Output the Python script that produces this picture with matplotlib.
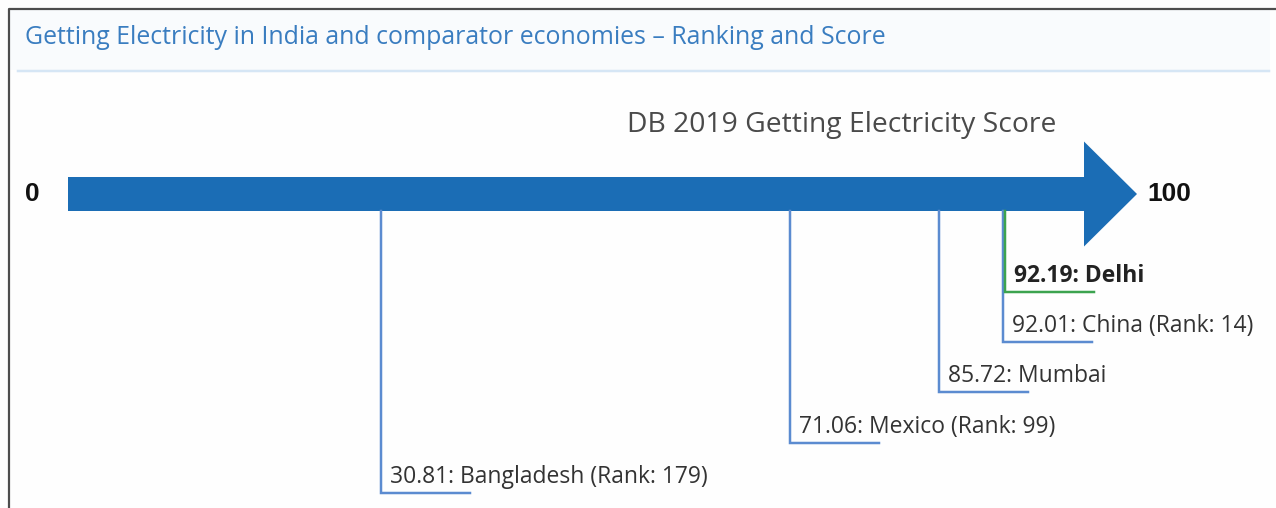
import matplotlib
matplotlib.use("Agg")
import matplotlib.pyplot as plt
from matplotlib.patches import FancyArrow, Rectangle
from matplotlib.lines import Line2D

# ---- data ----
names = ["Delhi", "China", "Mumbai", "Mexico", "Bangladesh"]
scores = [92.19, 92.01, 85.72, 71.06, 30.81]
ranks = [None, 14, None, 99, 179]
highlight = [True, False, False, False, False]
scale_min, scale_max = 0, 100
title = "Getting Electricity in India and comparator economies \u2013 Ranking and Score"
axis_title = "DB 2019 Getting Electricity Score"

# ---- layout (pixels) ----
W, H = 1276, 508
x0_px, x100_px = 68, 1084
ppu = (x100_px - x0_px) / (scale_max - scale_min)
bar_top, bar_bot = 177, 211
head_top, head_bot = 142, 247
head_len_px = 53
label_y = [276, 326, 376, 427, 477]
under_off = 16
under_len_px = 89
text_off_px = 9

BAR = "#1b6db5"
LEAD = "#5b8bd0"
GREEN = "#3ca34f"
TXT = "#333333"

fig = plt.figure(figsize=(W / 100, H / 100), dpi=100)
fig.patch.set_facecolor("#fefefe")
ax = fig.add_axes([0, 0, 1, 1])
ax.set_xlim(scale_min - x0_px / ppu, scale_min + (W - x0_px) / ppu)
ax.set_ylim(H, 0)
ax.axis("off")

# header band and frame
fig.add_artist(Rectangle((10 / W, 1 - 70 / H), 1260 / W, 60 / H, transform=fig.transFigure,
                         facecolor="#f9fbfd", edgecolor="none", zorder=0))
fig.add_artist(Line2D([18 / W, 1269 / W], [1 - 71 / H, 1 - 71 / H], transform=fig.transFigure,
                      color="#d6e6f5", lw=2.5 * 0.72))
fig.add_artist(Line2D([8.5 / W, 8.5 / W, 1], [0, 1 - 8.5 / H, 1 - 8.5 / H], transform=fig.transFigure,
                      color="#4d4d4d", lw=2.2 * 0.72))
fig.text(25 / W, 1 - 37 / H, title, fontsize=17.9, family="Open Sans", color="#3a7dc0",
         ha="left", va="center")

# arrow
mid = (bar_top + bar_bot) / 2
head_len = head_len_px / ppu
arrow = FancyArrow(scale_min, mid, scale_max - scale_min + head_len, 0,
                   width=bar_bot - bar_top, head_width=head_bot - head_top,
                   head_length=head_len, length_includes_head=True,
                   color=BAR, lw=0, zorder=2)
ax.add_patch(arrow)

ax.text(scale_min - 36 / ppu, mid, str(scale_min), fontsize=19, fontweight="bold",
        family="Liberation Sans", color="#111111", ha="center", va="center")
ax.text(scale_max + head_len + 10 / ppu, mid, str(scale_max), fontsize=19, fontweight="bold",
        family="Liberation Sans", color="#111111", ha="left", va="center")
ax.text(scale_min + 842 / ppu - x0_px / ppu, 125, axis_title, fontsize=20.3, family="Open Sans",
        color="#4a4a4a", ha="center", va="center")

# leaders and labels
for i in range(len(names) - 1, -1, -1):
    v = scores[i]
    ly = label_y[i]
    uy = ly + under_off
    col = GREEN if highlight[i] else LEAD
    ax.plot([v, v, v + under_len_px / ppu], [bar_bot, uy, uy], color=col,
            lw=2.5 * 0.72, solid_joinstyle="miter", zorder=3 + (2 if highlight[i] else 0))
    lab = f"{v:.2f}: {names[i]}"
    if ranks[i] is not None:
        lab += f" (Rank: {ranks[i]})"
    ax.text(v + text_off_px / ppu, ly, lab, fontsize=16.5, family="Open Sans",
            fontweight="bold" if highlight[i] else "normal",
            color="#222222" if highlight[i] else TXT, ha="left", va="center", zorder=6)

fig.savefig("out.png", dpi=100, facecolor=fig.get_facecolor())
